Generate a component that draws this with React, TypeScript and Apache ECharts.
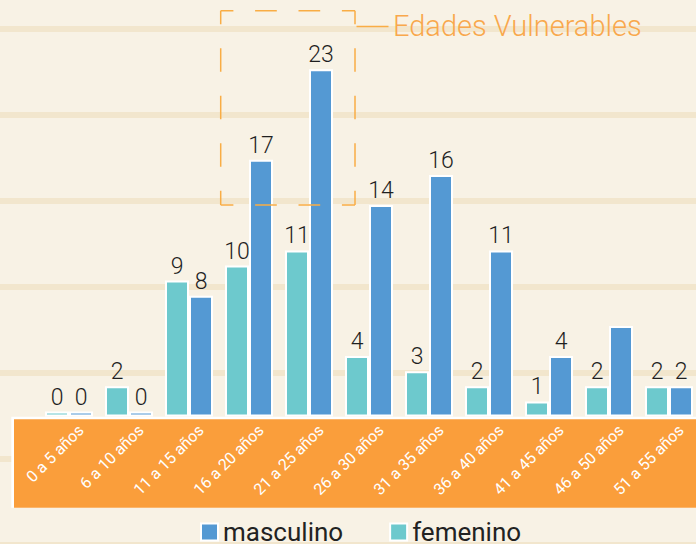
import React, { useEffect, useRef } from "react";
import * as echarts from "echarts";

const categories = [
  "0 a 5 años",
  "6 a 10 años",
  "11 a 15 años",
  "16 a 20 años",
  "21 a 25 años",
  "26 a 30 años",
  "31 a 35 años",
  "36 a 40 años",
  "41 a 45 años",
  "46 a 50 años",
  "51 a 55 años",
];
const femenino = [0, 2, 9, 10, 11, 4, 3, 2, 1, 2, 2];
const masculino = [0, 0, 8, 17, 23, 14, 16, 11, 4, 6, 2];
const masculinoLabelShown = [true, true, true, true, true, true, true, true, true, false, true];
const legendNames = ["masculino", "femenino"];
const annotationText = "Edades Vulnerables";

const BG = "#f8f2e5";
const STRIPE = "#f2e6cd";
const ORANGE = "#fa9e3b";
const DASH = "#f9ad45";
const TEXT_ORANGE = "#f9a84c";
const BLUE = "#5499d3";
const TEAL = "#6dc9cd";
const FONT = "Roboto, 'Noto Sans', sans-serif";

export default function App() {
  const ref = useRef<HTMLDivElement>(null);
  useEffect(() => {
    document.body.style.margin = "0";
    if (!ref.current) return;
    const chart = echarts.init(ref.current, undefined, { renderer: "svg" });

    const stripes: any[] = [];
    for (let k = 0; k < 7; k++) {
      stripes.push({
        type: "rect",
        z: 0,
        silent: true,
        shape: { x: 0, y: 26 + 86 * k, width: 696, height: 6 },
        style: { fill: STRIPE },
      });
    }

    const dashH = { lineDash: [21.7, 21.7], lineDashOffset: 9.1 };
    const dashV = { lineDash: [23.5, 24], lineDashOffset: 10.2 };
    const rx1 = 220.7, rx2 = 355, ry1 = 10.7, ry2 = 205;

    const valueLabel = {
      show: true,
      position: "top",
      distance: 3,
      fontSize: 23,
      fontWeight: 300,
      color: "#1f1f1f",
      fontFamily: FONT,
    };

    const option: any = {
      animation: false,
      backgroundColor: BG,
      textStyle: { fontFamily: FONT },
      grid: [
        { left: 39, width: 660, top: 39, height: 377.5, outerBoundsMode: "none", containLabel: false },
        { left: 51, width: 660, top: 39, height: 377.5, outerBoundsMode: "none", containLabel: false },
      ],
      xAxis: [
        {
          type: "category",
          gridIndex: 0,
          data: categories,
          axisLine: { show: false },
          axisTick: { show: false },
          axisLabel: { show: false },
          splitLine: { show: false },
        },
        {
          type: "category",
          gridIndex: 1,
          data: categories,
          z: 10,
          axisLine: { show: false },
          axisTick: { show: false },
          splitLine: { show: false },
          axisLabel: {
            rotate: 45,
            interval: 0,
            margin: 11,
            color: "#ffffff",
            fontSize: 16,
            fontFamily: FONT,
          },
        },
      ],
      yAxis: [
        { type: "value", gridIndex: 0, min: 0, max: 25, show: false, splitLine: { show: false } },
        { type: "value", gridIndex: 1, min: 0, max: 25, show: false, splitLine: { show: false } },
      ],
      legend: {
        data: legendNames,
        left: 200,
        top: 519,
        padding: 0,
        icon: "rect",
        itemWidth: 17,
        itemHeight: 17,
        itemGap: 46,
        textStyle: { fontSize: 26, lineHeight: 22, color: "#222222", fontFamily: FONT },
      },
      graphic: [
        ...stripes,
        {
          type: "rect",
          z: 1,
          silent: true,
          shape: { x: 11.3, y: 416.7, width: 700, height: 91 },
          style: { fill: "#ffffff" },
        },
        {
          type: "rect",
          z: 1,
          silent: true,
          shape: { x: 14, y: 419.3, width: 700, height: 88.4 },
          style: { fill: ORANGE },
        },
        {
          type: "line",
          z: 5,
          silent: true,
          shape: { x1: rx1, y1: ry1, x2: rx2, y2: ry1 },
          style: { stroke: DASH, lineWidth: 1.5, ...dashH },
        },
        {
          type: "line",
          z: 5,
          silent: true,
          shape: { x1: rx1, y1: ry2, x2: rx2, y2: ry2 },
          style: { stroke: DASH, lineWidth: 1.5, ...dashH },
        },
        {
          type: "line",
          z: 5,
          silent: true,
          shape: { x1: rx1, y1: ry1, x2: rx1, y2: ry2 },
          style: { stroke: DASH, lineWidth: 1.5, ...dashV },
        },
        {
          type: "line",
          z: 5,
          silent: true,
          shape: { x1: rx2, y1: ry1, x2: rx2, y2: ry2 },
          style: { stroke: DASH, lineWidth: 1.5, ...dashV },
        },
        {
          type: "line",
          z: 5,
          silent: true,
          shape: { x1: 356.5, y1: 26.5, x2: 388.5, y2: 26.5 },
          style: { stroke: DASH, lineWidth: 1.5 },
        },
        {
          type: "text",
          z: 5,
          silent: true,
          x: 393,
          y: 26,
          style: {
            text: annotationText,
            fill: TEXT_ORANGE,
            fontSize: 29,
            fontWeight: 300,
            fontFamily: FONT,
            verticalAlign: "middle",
            align: "left",
          },
        },
      ],
      series: [
        {
          name: "femenino",
          type: "bar",
          xAxisIndex: 0,
          yAxisIndex: 0,
          data: femenino,
          barWidth: 24,
          barGap: "0%",
          barMinHeight: 5,
          z: 3,
          itemStyle: { color: TEAL, borderColor: "#ffffff", borderWidth: 2 },
          label: valueLabel,
        },
        {
          name: "masculino",
          type: "bar",
          xAxisIndex: 0,
          yAxisIndex: 0,
          data: masculino.map((v, i) => ({ value: v, label: { show: masculinoLabelShown[i] } })),
          barWidth: 24,
          barGap: "0%",
          barMinHeight: 5,
          z: 3,
          itemStyle: { color: BLUE, borderColor: "#ffffff", borderWidth: 2 },
          label: valueLabel,
        },
      ],
    };
    chart.setOption(option);
    return () => chart.dispose();
  }, []);
  return (
    <div
      ref={ref}
      style={{ position: "fixed", left: 0, top: 0, width: 696, height: 544 }}
    />
  );
}
